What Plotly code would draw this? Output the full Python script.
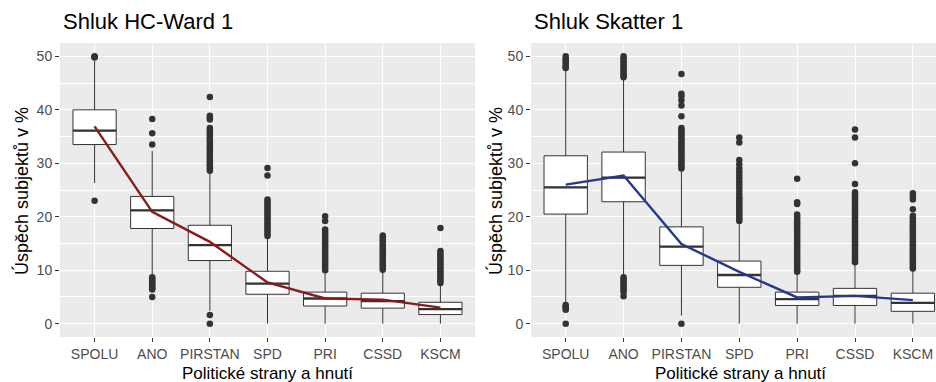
import plotly.graph_objects as go

categories = ["SPOLU", "ANO", "PIRSTAN", "SPD", "PRI", "CSSD", "KSCM"]

# ---- Panel 1: Shluk HC-Ward 1 ----
hc_q1 = [33.5, 17.8, 11.8, 5.5, 3.3, 2.9, 1.7]
hc_median = [36.1, 21.2, 14.7, 7.5, 4.7, 4.2, 2.7]
hc_q3 = [40.0, 23.8, 18.4, 9.8, 5.9, 5.7, 4.0]
hc_lower = [26.3, 9.2, 2.4, 0.0, 0.0, 0.0, 0.0]
hc_upper = [49.2, 32.3, 28.2, 16.0, 9.6, 9.7, 7.3]
hc_mean = [36.9, 20.9, 15.3, 7.7, 4.7, 4.5, 3.0]
hc_outliers = [
    [50.0, 49.9, 49.8, 23.0],
    [38.3, 35.6, 33.5, 8.7, 8.4, 8.1, 7.8, 7.5, 7.2, 6.9, 6.6, 6.4, 5.0],
    [42.4, 38.9, 38.5, 38.2, 36.6, 36.2, 35.8, 35.4, 35.0, 34.6, 34.2, 33.8, 33.4,
     33.0, 32.6, 32.2, 31.8, 31.4, 31.0, 30.6, 30.2, 29.8, 29.4, 29.0, 28.6, 1.6, 0.0],
    [29.1, 27.7, 23.2, 22.8, 22.4, 22.0, 21.6, 21.2, 20.8, 20.4, 20.0, 19.6, 19.2,
     18.8, 18.4, 18.0, 17.6, 17.2, 16.8, 16.4],
    [20.1, 19.2, 17.6, 17.2, 16.8, 16.4, 16.0, 15.6, 15.2, 14.8, 14.4, 14.0, 13.6,
     13.2, 12.8, 12.4, 12.0, 11.6, 11.2, 10.8, 10.4, 10.0],
    [16.5, 16.1, 15.7, 15.3, 14.9, 14.5, 14.1, 13.7, 13.3, 12.9, 12.5, 12.1, 11.7,
     11.3, 10.9, 10.5, 10.1],
    [17.9, 13.6, 13.2, 12.8, 12.4, 12.0, 11.6, 11.2, 10.8, 10.4, 10.0, 9.6, 9.2,
     8.8, 8.4, 8.0, 7.6],
]

# ---- Panel 2: Shluk Skatter 1 ----
sk_q1 = [20.5, 22.8, 10.9, 6.8, 3.4, 3.4, 2.3]
sk_median = [25.5, 27.3, 14.4, 9.1, 4.6, 5.2, 3.9]
sk_q3 = [31.4, 32.1, 18.1, 11.7, 5.9, 6.6, 5.7]
sk_lower = [3.8, 9.0, 1.5, 0.0, 0.0, 0.0, 0.0]
sk_upper = [47.6, 45.9, 28.8, 19.0, 9.5, 11.3, 10.1]
sk_mean = [26.0, 27.7, 14.9, 9.7, 4.9, 5.2, 4.4]
sk_outliers = [
    [50.0, 49.6, 49.2, 48.8, 48.4, 48.0, 47.8, 3.5, 3.2, 2.9, 2.6, 0.0],
    [50.0, 49.6, 49.2, 48.8, 48.4, 48.0, 47.6, 47.2, 46.8, 46.4, 46.1,
     8.7, 8.3, 7.9, 7.5, 7.1, 6.7, 6.3, 5.9, 5.1],
    [46.7, 43.0, 42.6, 41.8, 40.8, 38.8, 36.6, 36.2, 35.8, 35.4, 35.0, 34.6, 34.2,
     33.8, 33.4, 33.0, 32.6, 32.2, 31.8, 31.4, 31.0, 30.6, 30.2, 29.8, 29.4, 29.0, 0.0],
    [34.8, 33.9, 30.6, 29.8, 29.0, 28.4, 27.8, 27.2, 26.6, 26.0, 25.4, 24.8, 24.2,
     23.6, 23.2, 22.8, 22.4, 22.0, 21.6, 21.2, 20.8, 20.4, 20.0, 19.6, 19.2],
    [27.1, 22.7, 22.4, 20.4, 20.0, 19.6, 19.2, 18.8, 18.4, 18.0, 17.6, 17.2, 16.8,
     16.4, 16.0, 15.6, 15.2, 14.8, 14.4, 14.0, 13.6, 13.2, 12.8, 12.4, 12.0, 11.6,
     11.2, 10.8, 10.4, 10.0, 9.7],
    [36.3, 34.8, 30.0, 26.1, 24.6, 24.2, 23.8, 23.4, 23.0, 22.6, 22.2, 21.8, 21.4,
     21.0, 20.6, 20.2, 19.8, 19.4, 19.0, 18.6, 18.2, 17.8, 17.4, 17.0, 16.6, 16.2,
     15.8, 15.4, 15.0, 14.6, 14.2, 13.8, 13.4, 13.0, 12.6, 12.2, 11.8, 11.5],
    [24.4, 23.8, 23.2, 21.4, 20.2, 19.8, 19.4, 19.0, 18.6, 18.2, 17.8, 17.4, 17.0,
     16.6, 16.2, 15.8, 15.4, 15.0, 14.6, 14.2, 13.8, 13.4, 13.0, 12.6, 12.2, 11.8,
     11.4, 11.0, 10.6, 10.3],
]

titles = ["Shluk HC-Ward 1", "Shluk Skatter 1"]
y_title = "Úspěch subjektů v %"
x_title = "Politické strany a hnutí"
y_ticks = [0, 10, 20, 30, 40, 50]

W, H = 936, 382
FONT = "Liberation Sans, Arial, sans-serif"
BOX_COLOR = "#333333"
BOX_W = 0.75

panels = [
    dict(q1=hc_q1, med=hc_median, q3=hc_q3, lo=hc_lower, hi=hc_upper, mean=hc_mean,
         out=hc_outliers, color="#8B1A1A", xa="x", ya="y",
         px=(60, 475), xrange=[-0.6, 6.6]),
    dict(q1=sk_q1, med=sk_median, q3=sk_q3, lo=sk_lower, hi=sk_upper, mean=sk_mean,
         out=sk_outliers, color="#27398C", xa="x2", ya="y2",
         px=(531, 936), xrange=[-0.6, 6.4]),
]

fig = go.Figure()
positions = list(range(len(categories)))

for p in panels:
    fig.add_trace(go.Box(
        x=positions, q1=p["q1"], median=p["med"], q3=p["q3"],
        lowerfence=p["lo"], upperfence=p["hi"],
        width=BOX_W, whiskerwidth=0, boxpoints=False,
        fillcolor="white", line=dict(color=BOX_COLOR, width=1),
        xaxis=p["xa"], yaxis=p["ya"], showlegend=False, hoverinfo="skip"))
    ox, oy = [], []
    for i, vals in enumerate(p["out"]):
        ox += [i] * len(vals)
        oy += vals
    fig.add_trace(go.Scatter(
        x=ox, y=oy, mode="markers",
        marker=dict(color=BOX_COLOR, size=6.5, line=dict(width=0)),
        xaxis=p["xa"], yaxis=p["ya"], showlegend=False, hoverinfo="skip"))
    mx, my = [], []
    for i, m in enumerate(p["med"]):
        mx += [i - BOX_W / 2, i + BOX_W / 2, None]
        my += [m, m, None]
    fig.add_trace(go.Scatter(
        x=mx, y=my, mode="lines", line=dict(color=BOX_COLOR, width=2.3),
        xaxis=p["xa"], yaxis=p["ya"], showlegend=False, hoverinfo="skip"))
    fig.add_trace(go.Scatter(
        x=positions, y=p["mean"], mode="lines",
        line=dict(color=p["color"], width=2.4),
        xaxis=p["xa"], yaxis=p["ya"], showlegend=False, hoverinfo="skip"))

y_dom = [1 - 337 / H, 1 - 43 / H]
axis_common = dict(
    showgrid=True, gridcolor="white", gridwidth=1.1, zeroline=False,
    ticks="outside", ticklen=4, tickcolor=BOX_COLOR, tickwidth=1,
    tickfont=dict(family=FONT, size=14, color="#4D4D4D"),
    showline=False,
)

layout = dict(
    width=W, height=H, autosize=False,
    margin=dict(l=0, r=0, t=0, b=0),
    paper_bgcolor="white", plot_bgcolor="#EBEBEB",
    font=dict(family=FONT),
    showlegend=False,
)
annotations = []
for k, p in enumerate(panels):
    sfx = "" if k == 0 else "2"
    x0, x1 = p["px"]
    layout["xaxis" + sfx] = dict(
        axis_common, domain=[x0 / W, x1 / W], range=p["xrange"],
        tickmode="array", tickvals=positions, ticktext=categories,
        anchor="y" + sfx)
    layout["yaxis" + sfx] = dict(
        axis_common, domain=y_dom, range=[-2.5, 52.5],
        tickmode="array", tickvals=y_ticks,
        minor=dict(dtick=5, tick0=0, showgrid=True, gridcolor="white",
                   gridwidth=0.55, ticks=""),
        anchor="x" + sfx)
    # panel title
    annotations.append(dict(
        text=titles[k], xref="paper", yref="paper",
        x=(x0 + 0.5) / W, y=1 - 21 / H, xanchor="left", yanchor="middle",
        showarrow=False, font=dict(family=FONT, size=22, color="black")))
    # y title
    ytx = 21 if k == 0 else 495
    annotations.append(dict(
        text=y_title, xref="paper", yref="paper", textangle=-90,
        x=ytx / W, y=1 - 191 / H, xanchor="center", yanchor="middle",
        showarrow=False, font=dict(family=FONT, size=18, color="black")))
    # x title (centered on full panel width)
    cx = (60 + 475) / 2 if k == 0 else (531 + 949) / 2
    annotations.append(dict(
        text=x_title, xref="paper", yref="paper",
        x=cx / W, y=-2 / H, xanchor="center", yanchor="bottom",
        borderpad=0,
        showarrow=False, font=dict(family=FONT, size=17, color="black")))
layout["annotations"] = annotations
fig.update_layout(**layout)

fig.write_html("out.html", config={"displayModeBar": False})
with open("out.html", "r", encoding="utf-8") as f:
    html = f.read()
html = html.replace("<head>", "<head><style>html,body{margin:0;padding:0;overflow:hidden;}</style>", 1)
with open("out.html", "w", encoding="utf-8") as f:
    f.write(html)
